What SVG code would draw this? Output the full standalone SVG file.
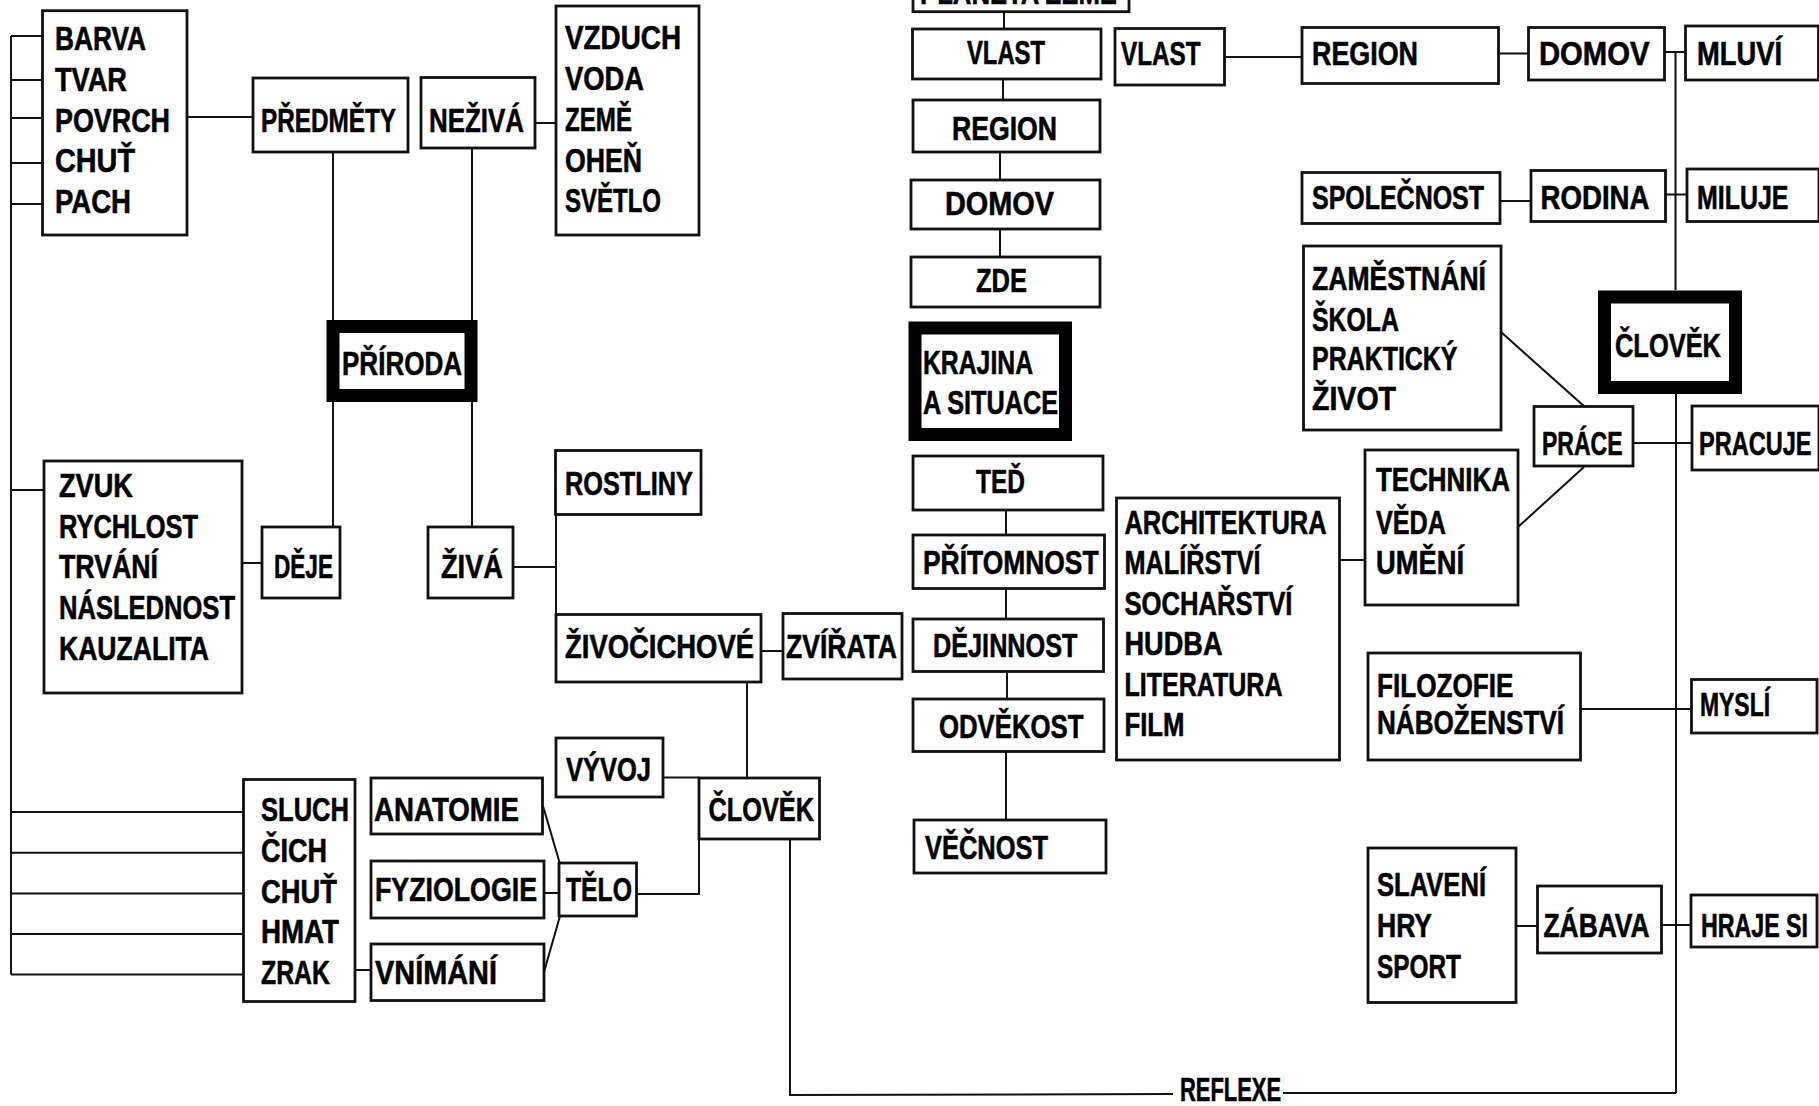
<svg xmlns="http://www.w3.org/2000/svg" width="1819" height="1106" viewBox="0 0 1819 1106">
<style>
.box{fill:#fff;stroke:#111;stroke-width:2.8}
.thick{fill:#fff;stroke:#000;stroke-width:13}
.c{fill:none;stroke:#111;stroke-width:2}
text{font-family:"Liberation Sans Narrow","Liberation Sans",Arial,sans-serif;font-weight:bold;font-size:34px;fill:#000;stroke:#000;stroke-width:0.6}
</style>
<rect width="1819" height="1106" fill="#fff"/>
<g id="connectors">
<polyline class="c" points="11,36 11,974.5"/>
<path class="c" d="M11,36H43M11,80H43M11,118H43M11,163H43M11,204H43"/>
<path class="c" d="M11,490H44"/>
<path class="c" d="M11,812H243.5M11,852.7H243.5M11,893.4H243.5M11,934H243.5M11,974.5H243.5"/>
<path class="c" d="M187,117H253"/>
<path class="c" d="M535,123H556"/>
<path class="c" d="M333,152V320M333,402V527"/>
<path class="c" d="M472,148V320M472,402V527"/>
<path class="c" d="M242,563H262"/>
<path class="c" d="M513,567H556M556,514V615"/>
<path class="c" d="M761,651H783"/>
<path class="c" d="M747,682V778"/>
<path class="c" d="M663,777.5H699"/>
<polyline class="c" points="636.5,894 699,894 699,839"/>
<path class="c" d="M544,893H559"/>
<path class="c" d="M355,970H371"/>
<path class="c" d="M543,806L560,864M544,972L560,916"/>
<path class="c" d="M1004,11.7V29M1003,79V100M1000,152V180M1000,229V257"/>
<path class="c" d="M1006,510V535M1006,588.5V619M1007,671.5V699M1006,751.5V820"/>
<path class="c" d="M1339.5,560H1365"/>
<path class="c" d="M1518,527L1584,467M1501,332L1585,407"/>
<path class="c" d="M1224.5,57H1302M1498.5,53.5H1528.5M1664.5,52H1685.5"/>
<path class="c" d="M1500,201H1531M1665.5,194.5H1687"/>
<path class="c" d="M1675.5,52V290M1676,394V1093"/>
<path class="c" d="M1633,443H1692"/>
<path class="c" d="M1580.5,709H1691.5"/>
<path class="c" d="M1516,926H1537.5M1661.5,925H1691"/>
<polyline class="c" points="790,839 790,1095 1173,1094"/>
<polyline class="c" points="1283,1093 1676,1093"/>
</g>
<g id="barva"><rect class="box" x="42.5" y="10.7" width="144.5" height="224.3"/>
<text x="55" y="49.5" textLength="91" lengthAdjust="spacingAndGlyphs">BARVA</text>
<text x="55" y="91" textLength="72" lengthAdjust="spacingAndGlyphs">TVAR</text>
<text x="55" y="131.5" textLength="115" lengthAdjust="spacingAndGlyphs">POVRCH</text>
<text x="55" y="172" textLength="80" lengthAdjust="spacingAndGlyphs">CHUŤ</text>
<text x="55" y="212.5" textLength="76" lengthAdjust="spacingAndGlyphs">PACH</text></g>
<g id="predmety"><rect class="box" x="253" y="78" width="155" height="74"/>
<text x="261" y="131.5" textLength="135" lengthAdjust="spacingAndGlyphs">PŘEDMĚTY</text></g>
<g id="neziva"><rect class="box" x="421" y="77.5" width="114" height="70.5"/>
<text x="429" y="131.5" textLength="95" lengthAdjust="spacingAndGlyphs">NEŽIVÁ</text></g>
<g id="vzduch"><rect class="box" x="556" y="6" width="143" height="229"/>
<text x="565" y="48.5" textLength="116" lengthAdjust="spacingAndGlyphs">VZDUCH</text>
<text x="565" y="90" textLength="79" lengthAdjust="spacingAndGlyphs">VODA</text>
<text x="565" y="131" textLength="67" lengthAdjust="spacingAndGlyphs">ZEMĚ</text>
<text x="565" y="171.5" textLength="77" lengthAdjust="spacingAndGlyphs">OHEŇ</text>
<text x="565" y="212" textLength="96" lengthAdjust="spacingAndGlyphs">SVĚTLO</text></g>
<g id="priroda"><rect class="thick" x="333" y="326.5" width="138" height="69"/>
<text x="342" y="375" textLength="120" lengthAdjust="spacingAndGlyphs">PŘÍRODA</text></g>
<g id="zvuk"><rect class="box" x="44" y="461" width="198" height="232"/>
<text x="59" y="497" textLength="74" lengthAdjust="spacingAndGlyphs">ZVUK</text>
<text x="59" y="537.5" textLength="139" lengthAdjust="spacingAndGlyphs">RYCHLOST</text>
<text x="59" y="578" textLength="99" lengthAdjust="spacingAndGlyphs">TRVÁNÍ</text>
<text x="59" y="619" textLength="176" lengthAdjust="spacingAndGlyphs">NÁSLEDNOST</text>
<text x="59" y="660" textLength="150" lengthAdjust="spacingAndGlyphs">KAUZALITA</text></g>
<g id="deje"><rect class="box" x="262" y="527" width="78" height="71"/>
<text x="274" y="578" textLength="59" lengthAdjust="spacingAndGlyphs">DĚJE</text></g>
<g id="ziva"><rect class="box" x="428" y="527" width="85" height="71"/>
<text x="441" y="578" textLength="62" lengthAdjust="spacingAndGlyphs">ŽIVÁ</text></g>
<g id="rostliny"><rect class="box" x="555.5" y="450.5" width="145.5" height="64"/>
<text x="565" y="495" textLength="128" lengthAdjust="spacingAndGlyphs">ROSTLINY</text></g>
<g id="zivocichove"><rect class="box" x="556" y="614.5" width="205" height="67.5"/>
<text x="565" y="658" textLength="189" lengthAdjust="spacingAndGlyphs">ŽIVOČICHOVÉ</text></g>
<g id="zvirata"><rect class="box" x="783" y="613.5" width="119" height="65.5"/>
<text x="786" y="658" textLength="111" lengthAdjust="spacingAndGlyphs">ZVÍŘATA</text></g>
<g id="vyvoj"><rect class="box" x="556" y="738" width="107" height="59"/>
<text x="566" y="781" textLength="85" lengthAdjust="spacingAndGlyphs">VÝVOJ</text></g>
<g id="clovek1"><rect class="box" x="699" y="778" width="120.5" height="61"/>
<text x="708.5" y="821" textLength="105.5" lengthAdjust="spacingAndGlyphs">ČLOVĚK</text></g>
<g id="telo"><rect class="box" x="559" y="863" width="77.5" height="53"/>
<text x="566" y="901" textLength="66" lengthAdjust="spacingAndGlyphs">TĚLO</text></g>
<g id="anatomie"><rect class="box" x="371" y="778" width="171.5" height="56"/>
<text x="374" y="821" textLength="145" lengthAdjust="spacingAndGlyphs">ANATOMIE</text></g>
<g id="fyziologie"><rect class="box" x="371" y="861" width="173" height="57"/>
<text x="375" y="901" textLength="162" lengthAdjust="spacingAndGlyphs">FYZIOLOGIE</text></g>
<g id="vnimani"><rect class="box" x="371" y="944" width="173" height="56.5"/>
<text x="375" y="984" textLength="122" lengthAdjust="spacingAndGlyphs">VNÍMÁNÍ</text></g>
<g id="sluch"><rect class="box" x="243.5" y="779.5" width="111.5" height="222"/>
<text x="261" y="821" textLength="88" lengthAdjust="spacingAndGlyphs">SLUCH</text>
<text x="261" y="861.8" textLength="66" lengthAdjust="spacingAndGlyphs">ČICH</text>
<text x="261" y="902.5" textLength="76" lengthAdjust="spacingAndGlyphs">CHUŤ</text>
<text x="261" y="943.3" textLength="78" lengthAdjust="spacingAndGlyphs">HMAT</text>
<text x="261" y="984" textLength="69" lengthAdjust="spacingAndGlyphs">ZRAK</text></g>
<g id="planeta"><rect class="box" x="913" y="-40" width="216" height="51.7"/>
<text x="920" y="3.5" textLength="197" lengthAdjust="spacingAndGlyphs">PLANETA ZEMĚ</text></g>
<g id="vlast1"><rect class="box" x="912.5" y="29" width="188.5" height="50"/>
<text x="967" y="63.5" textLength="78" lengthAdjust="spacingAndGlyphs">VLAST</text></g>
<g id="region1"><rect class="box" x="913" y="100" width="187" height="52"/>
<text x="952" y="140" textLength="105" lengthAdjust="spacingAndGlyphs">REGION</text></g>
<g id="domov1"><rect class="box" x="911" y="180" width="189" height="49"/>
<text x="945" y="215" textLength="109" lengthAdjust="spacingAndGlyphs">DOMOV</text></g>
<g id="zde"><rect class="box" x="911" y="257" width="189" height="50"/>
<text x="976" y="292" textLength="51" lengthAdjust="spacingAndGlyphs">ZDE</text></g>
<g id="krajina"><rect class="thick" x="915" y="328" width="150.5" height="106.5"/>
<text x="923" y="373.5" textLength="110" lengthAdjust="spacingAndGlyphs">KRAJINA</text>
<text x="923" y="413.5" textLength="135" lengthAdjust="spacingAndGlyphs">A SITUACE</text></g>
<g id="ted"><rect class="box" x="913" y="456" width="190" height="54"/>
<text x="976" y="493" textLength="49" lengthAdjust="spacingAndGlyphs">TEĎ</text></g>
<g id="pritomnost"><rect class="box" x="913" y="535" width="191.5" height="53.5"/>
<text x="923" y="574" textLength="175.5" lengthAdjust="spacingAndGlyphs">PŘÍTOMNOST</text></g>
<g id="dejinnost"><rect class="box" x="913" y="619" width="190.5" height="52.5"/>
<text x="933" y="657" textLength="144.5" lengthAdjust="spacingAndGlyphs">DĚJINNOST</text></g>
<g id="odvekost"><rect class="box" x="913" y="699" width="191" height="52.5"/>
<text x="939" y="738" textLength="144.5" lengthAdjust="spacingAndGlyphs">ODVĚKOST</text></g>
<g id="vecnost"><rect class="box" x="914" y="820" width="192" height="53"/>
<text x="925" y="858.5" textLength="123" lengthAdjust="spacingAndGlyphs">VĚČNOST</text></g>
<g id="architektura"><rect class="box" x="1116.5" y="498" width="223" height="262"/>
<text x="1124.5" y="533.5" textLength="202" lengthAdjust="spacingAndGlyphs">ARCHITEKTURA</text>
<text x="1124.5" y="574" textLength="136" lengthAdjust="spacingAndGlyphs">MALÍŘSTVÍ</text>
<text x="1124.5" y="614.5" textLength="168" lengthAdjust="spacingAndGlyphs">SOCHAŘSTVÍ</text>
<text x="1124.5" y="655" textLength="98" lengthAdjust="spacingAndGlyphs">HUDBA</text>
<text x="1124.5" y="695.5" textLength="158" lengthAdjust="spacingAndGlyphs">LITERATURA</text>
<text x="1124.5" y="736" textLength="60" lengthAdjust="spacingAndGlyphs">FILM</text></g>
<g id="technika"><rect class="box" x="1365" y="450" width="153" height="155"/>
<text x="1376" y="491" textLength="134" lengthAdjust="spacingAndGlyphs">TECHNIKA</text>
<text x="1376" y="533.5" textLength="70" lengthAdjust="spacingAndGlyphs">VĚDA</text>
<text x="1376" y="574" textLength="88" lengthAdjust="spacingAndGlyphs">UMĚNÍ</text></g>
<g id="zamestnani"><rect class="box" x="1303.5" y="246" width="197.5" height="184"/>
<text x="1312" y="290" textLength="174" lengthAdjust="spacingAndGlyphs">ZAMĚSTNÁNÍ</text>
<text x="1312" y="330.5" textLength="87" lengthAdjust="spacingAndGlyphs">ŠKOLA</text>
<text x="1312" y="370" textLength="145.5" lengthAdjust="spacingAndGlyphs">PRAKTICKÝ</text>
<text x="1312" y="410" textLength="84" lengthAdjust="spacingAndGlyphs">ŽIVOT</text></g>
<g id="vlast2"><rect class="box" x="1115" y="28.5" width="109.5" height="56.5"/>
<text x="1121" y="65" textLength="79.5" lengthAdjust="spacingAndGlyphs">VLAST</text></g>
<g id="region2"><rect class="box" x="1302" y="27.5" width="196.5" height="56"/>
<text x="1312" y="65" textLength="106" lengthAdjust="spacingAndGlyphs">REGION</text></g>
<g id="domov2"><rect class="box" x="1528.5" y="27.5" width="136" height="52.5"/>
<text x="1539" y="65" textLength="110.5" lengthAdjust="spacingAndGlyphs">DOMOV</text></g>
<g id="mluvi"><rect class="box" x="1685.5" y="26" width="133" height="54"/>
<text x="1697" y="64.5" textLength="85" lengthAdjust="spacingAndGlyphs">MLUVÍ</text></g>
<g id="spolecnost"><rect class="box" x="1302" y="172.5" width="198" height="51"/>
<text x="1312" y="208.5" textLength="172" lengthAdjust="spacingAndGlyphs">SPOLEČNOST</text></g>
<g id="rodina"><rect class="box" x="1531" y="170.5" width="134.5" height="51"/>
<text x="1540.5" y="208.5" textLength="109" lengthAdjust="spacingAndGlyphs">RODINA</text></g>
<g id="miluje"><rect class="box" x="1687" y="169" width="132" height="52.5"/>
<text x="1697" y="208.5" textLength="91.5" lengthAdjust="spacingAndGlyphs">MILUJE</text></g>
<g id="clovek2"><rect class="thick" x="1604.5" y="297" width="131" height="90.5"/>
<text x="1615" y="357" textLength="106" lengthAdjust="spacingAndGlyphs">ČLOVĚK</text></g>
<g id="prace"><rect class="box" x="1534" y="406.5" width="99" height="59.5"/>
<text x="1542" y="455" textLength="80.5" lengthAdjust="spacingAndGlyphs">PRÁCE</text></g>
<g id="pracuje"><rect class="box" x="1692" y="406" width="127" height="64"/>
<text x="1699" y="455" textLength="112.5" lengthAdjust="spacingAndGlyphs">PRACUJE</text></g>
<g id="filozofie"><rect class="box" x="1368" y="653" width="212.5" height="107"/>
<text x="1377" y="696.5" textLength="136.5" lengthAdjust="spacingAndGlyphs">FILOZOFIE</text>
<text x="1377" y="734" textLength="187" lengthAdjust="spacingAndGlyphs">NÁBOŽENSTVÍ</text></g>
<g id="mysli"><rect class="box" x="1691.5" y="679.5" width="125.5" height="53.5"/>
<text x="1700" y="716" textLength="70" lengthAdjust="spacingAndGlyphs">MYSLÍ</text></g>
<g id="slaveni"><rect class="box" x="1368" y="848" width="148" height="154.5"/>
<text x="1377" y="895.5" textLength="109" lengthAdjust="spacingAndGlyphs">SLAVENÍ</text>
<text x="1377" y="937" textLength="55" lengthAdjust="spacingAndGlyphs">HRY</text>
<text x="1377" y="978" textLength="84" lengthAdjust="spacingAndGlyphs">SPORT</text></g>
<g id="zabava"><rect class="box" x="1537.5" y="886" width="124" height="67"/>
<text x="1543.5" y="937" textLength="106" lengthAdjust="spacingAndGlyphs">ZÁBAVA</text></g>
<g id="hrajesi"><rect class="box" x="1691" y="895" width="126" height="52"/>
<text x="1701" y="937" textLength="107" lengthAdjust="spacingAndGlyphs">HRAJE SI</text></g>
<g id="reflexe"><text x="1180" y="1100.5" textLength="101" lengthAdjust="spacingAndGlyphs">REFLEXE</text></g>
</svg>
